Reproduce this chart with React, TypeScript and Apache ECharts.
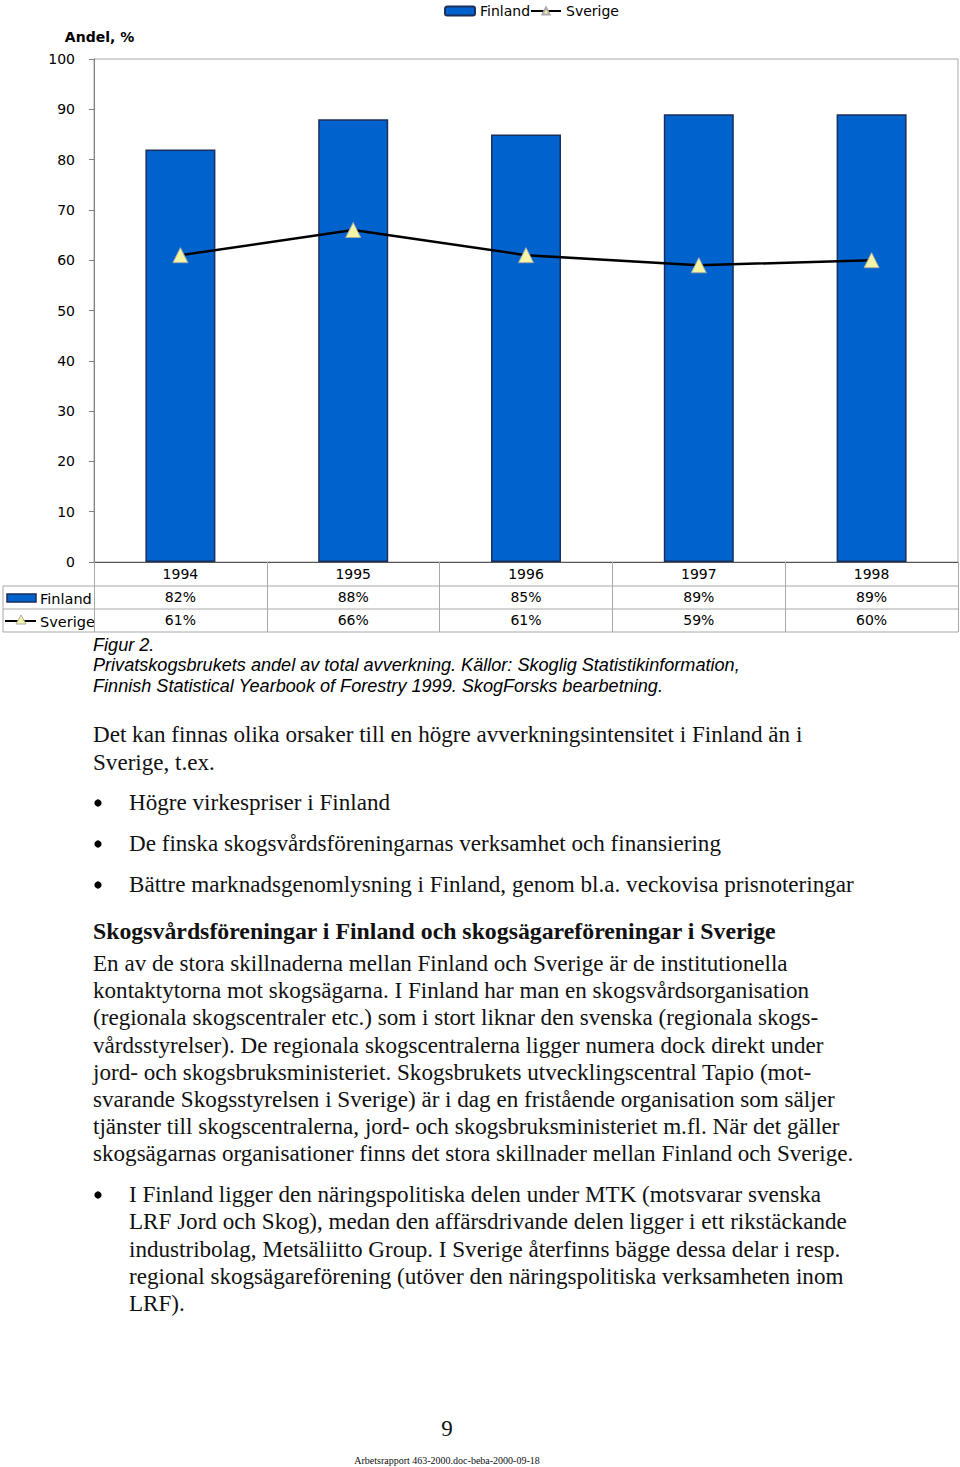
import React, { useEffect, useRef } from "react";
import * as echarts from "echarts";

const years = ["1994", "1995", "1996", "1997", "1998"];
const finland = [82, 88, 85, 89, 89];
const sverige = [61, 66, 61, 59, 60];
const seriesNames = ["Finland", "Sverige"];
const yAxisName = "Andel, %";

const captionLines = [
  "Figur 2.",
  "Privatskogsbrukets andel av total avverkning. Källor: Skoglig Statistikinformation,",
  "Finnish Statistical Yearbook of Forestry 1999. SkogForsks bearbetning.",
];
const introLines = [
  "Det kan finnas olika orsaker till en högre avverkningsintensitet i Finland än i",
  "Sverige, t.ex.",
];
const bullets1 = [
  "Högre virkespriser i Finland",
  "De finska skogsvårdsföreningarnas verksamhet och finansiering",
  "Bättre marknadsgenomlysning i Finland, genom bl.a. veckovisa prisnoteringar",
];
const heading = "Skogsvårdsföreningar i Finland och skogsägareföreningar i Sverige";
const paraLines = [
  "En av de stora skillnaderna mellan Finland och Sverige är de institutionella",
  "kontaktytorna mot skogsägarna. I Finland har man en skogsvårdsorganisation",
  "(regionala skogscentraler etc.) som i stort liknar den svenska (regionala skogs-",
  "vårdsstyrelser). De regionala skogscentralerna ligger numera dock direkt under",
  "jord- och skogsbruksministeriet. Skogsbrukets utvecklingscentral Tapio (mot-",
  "svarande Skogsstyrelsen i Sverige) är i dag en fristående organisation som säljer",
  "tjänster till skogscentralerna, jord- och skogsbruksministeriet m.fl. När det gäller",
  "skogsägarnas organisationer finns det stora skillnader mellan Finland och Sverige.",
];
const bullet2Lines = [
  "I Finland ligger den näringspolitiska delen under MTK (motsvarar svenska",
  "LRF Jord och Skog), medan den affärsdrivande delen ligger i ett rikstäckande",
  "industribolag, Metsäliitto Group. I Sverige återfinns bägge dessa delar i resp.",
  "regional skogsägareförening (utöver den näringspolitiska verksamheten inom",
  "LRF).",
];
const pageNumber = "9";
const footer = "Arbetsrapport 463-2000.doc-beba-2000-09-18";

const SANS = "DejaVu Sans";
const SERIF = "Liberation Serif";
const BAR = "#0062CC";
const BAR_EDGE = "#1b2f5c";
const TRI = "#f4f4a6";
const GRID_GRAY = "#a8a8a8";

export default function App() {
  const ref = useRef<HTMLDivElement>(null);
  useEffect(() => {
    if (!ref.current) return;
    const chart = echarts.init(ref.current, null, { renderer: "svg" });

    const serifText = (x: number, y: number, text: string, extra: any = {}) => ({
      type: "text",
      x,
      y,
      style: {
        text,
        fontFamily: SERIF,
        fontSize: 23.1,
        fill: "#111",
        verticalAlign: "middle",
        ...extra,
      },
    });

    const graphics: any[] = [];
    [586, 609, 632].forEach((y) =>
      graphics.push({ type: "line", shape: { x1: 3, y1: y, x2: 958, y2: y }, style: { stroke: GRID_GRAY, lineWidth: 1 } })
    );
    graphics.push({ type: "line", shape: { x1: 3, y1: 586, x2: 3, y2: 632 }, style: { stroke: GRID_GRAY, lineWidth: 1 } });
    graphics.push({ type: "rect", shape: { x: 7, y: 594, width: 29, height: 8 }, style: { fill: BAR, stroke: BAR_EDGE, lineWidth: 1.5 } });
    graphics.push({ type: "text", x: 40, y: 598.5, style: { text: seriesNames[0], fontFamily: SANS, fontSize: 14.5, fill: "#000", verticalAlign: "middle" } });
    graphics.push({ type: "line", shape: { x1: 5, y1: 621, x2: 36, y2: 621 }, style: { stroke: "#000", lineWidth: 2 } });
    graphics.push({ type: "polygon", shape: { points: [[21, 615], [26, 624], [16, 624]] }, style: { fill: TRI, stroke: "#aaa", lineWidth: 1 } });
    graphics.push({ type: "text", x: 40, y: 621.5, style: { text: seriesNames[1], fontFamily: SANS, fontSize: 14.5, fill: "#000", verticalAlign: "middle" } });

    const capY = [645, 665, 686];
    captionLines.forEach((t, i) =>
      graphics.push({ type: "text", x: 93, y: capY[i], style: { text: t, fontFamily: "Liberation Sans", fontStyle: "italic", fontSize: 18.1, fill: "#000", verticalAlign: "middle" } })
    );
    const introY = [734, 762];
    introLines.forEach((t, i) => graphics.push(serifText(93, introY[i], t)));
    const b1Y = [802, 843, 884];
    bullets1.forEach((t, i) => {
      graphics.push({ type: "circle", shape: { cx: 98, cy: b1Y[i] + 1, r: 3.6 }, style: { fill: "#000" } });
      graphics.push(serifText(129, b1Y[i], t));
    });
    graphics.push(serifText(93, 931, heading, { fontWeight: "bold", fontSize: 23.8 }));
    paraLines.forEach((t, i) => graphics.push(serifText(93, 963 + i * 27.2, t)));
    bullet2Lines.forEach((t, i) => graphics.push(serifText(129, 1194 + i * 27.3, t)));
    graphics.push({ type: "circle", shape: { cx: 98, cy: 1195, r: 3.6 }, style: { fill: "#000" } });
    graphics.push(serifText(447, 1428, pageNumber, { align: "center", fontSize: 23 }));
    graphics.push(serifText(447, 1460, footer, { align: "center", fontSize: 10 }));

    chart.setOption({
      animation: false,
      backgroundColor: "#fff",
      textStyle: { fontFamily: SANS },
      legend: {
        top: -1,
        left: 439,
        itemWidth: 30,
        itemHeight: 9,
        itemGap: 0,
        textStyle: { fontFamily: SANS, fontSize: 14, color: "#000" },
        data: seriesNames,
      },
      grid: {
        left: 94,
        top: 59,
        width: 864,
        height: 503,
        show: true,
        borderColor: GRID_GRAY,
        borderWidth: 1,
        backgroundColor: "transparent",
      },
      xAxis: {
        type: "category",
        data: years,
        boundaryGap: true,
        axisLine: { lineStyle: { color: "#555", width: 1 } },
        axisTick: { show: true, length: 70, inside: false, alignWithLabel: false, lineStyle: { color: GRID_GRAY } },
        axisLabel: {
          margin: 0,
          formatter: (v: string, i: number) => `${v}\n${finland[i]}%\n${sverige[i]}%`,
          lineHeight: 23,
          fontFamily: SANS,
          fontSize: 14,
          color: "#000",
        },
      },
      yAxis: {
        type: "value",
        min: 0,
        max: 100,
        interval: 10,
        name: yAxisName,
        nameLocation: "end",
        nameGap: 15,
        nameTextStyle: { fontFamily: SANS, fontSize: 14, fontWeight: "bold", color: "#000", padding: [0, 0, 0, 11] },
        axisLine: { show: true, lineStyle: { color: "#808080" } },
        axisTick: { show: true, length: 5, lineStyle: { color: "#808080" } },
        splitLine: { show: false },
        axisLabel: { margin: 19, fontFamily: SANS, fontSize: 14, color: "#000" },
      },
      series: [
        {
          name: seriesNames[0],
          type: "bar",
          data: finland,
          barWidth: 70,
          itemStyle: { color: BAR, borderColor: BAR_EDGE, borderWidth: 1.5 },
        },
        {
          name: seriesNames[1],
          type: "line",
          data: sverige,
          symbol: "triangle",
          symbolSize: 15,
          lineStyle: { color: "#000", width: 2.5 },
          itemStyle: { color: TRI, borderColor: "#aaa", borderWidth: 1 },
        },
      ],
      graphic: graphics,
    });
    return () => chart.dispose();
  }, []);
  return <div ref={ref} style={{ position: "absolute", left: 0, top: 0, width: 960, height: 1467 }} />;
}
